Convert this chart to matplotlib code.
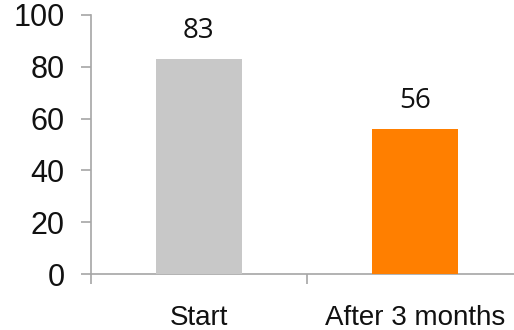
import matplotlib
matplotlib.use("Agg")
import matplotlib.pyplot as plt

categories = ["Start", "After 3 months"]
values = [83, 56]
bar_colors = ["#c8c8c8", "#ff7f00"]
yticks = [0, 20, 40, 60, 80, 100]

fig = plt.figure(figsize=(5.14, 3.30), dpi=100)
ax = fig.add_axes([91/514, 56/330, (514-91)/514, 259/330])

x = list(range(len(categories)))
ax.bar(x, values, width=0.4, color=bar_colors, zorder=3)
for xi, v in zip(x, values):
    ax.annotate(str(v), (xi, v), xytext=(0, 10), textcoords="offset points",
                ha="center", va="bottom", fontsize=20, family="Open Sans", color="#111111")

ax.set_xlim(-0.5, 1.46)
ax.set_ylim(0, 100)
ax.set_yticks(yticks)
ax.set_yticklabels([str(t) for t in yticks], family="Liberation Sans", fontsize=22, color="#111111")
ax.set_xticks([-0.5, 0.5])
ax.set_xticklabels(["", ""])
ax.set_xticks(x, minor=True)
ax.set_xticklabels(categories, minor=True, family="Liberation Sans", fontsize=20, color="#111111")

for s in ["top", "right"]:
    ax.spines[s].set_visible(False)
for s in ["left", "bottom"]:
    ax.spines[s].set_color("#a6a6a6")
    ax.spines[s].set_linewidth(1.2)
ax.tick_params(axis="y", which="major", direction="out", length=7, width=1.2, color="#a6a6a6", pad=12)
ax.tick_params(axis="x", which="major", direction="out", length=7, width=1.2, color="#a6a6a6")
ax.tick_params(axis="x", which="minor", length=0, pad=22)

fig.savefig("out.png", dpi=100)
